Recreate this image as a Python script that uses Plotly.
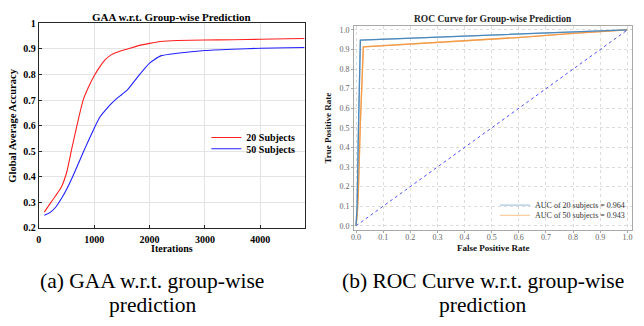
import plotly.graph_objects as go

# ---------------- data ----------------
iterations = [100, 200, 300, 400, 500, 600, 700, 800, 900, 1000, 1100, 1200, 1300,
              1400, 1500, 1600, 1800, 2000, 2200, 2500, 3000, 3500, 4000, 4500, 4800]
gaa_20 = [0.262, 0.294, 0.325, 0.357, 0.415, 0.515, 0.612, 0.700, 0.752, 0.795, 0.830,
          0.858, 0.876, 0.886, 0.894, 0.900, 0.913, 0.922, 0.929, 0.933, 0.935, 0.936,
          0.938, 0.940, 0.941]
gaa_50 = [0.250, 0.260, 0.280, 0.312, 0.350, 0.395, 0.445, 0.495, 0.543, 0.590, 0.633,
          0.660, 0.684, 0.705, 0.722, 0.740, 0.795, 0.845, 0.873, 0.883, 0.894, 0.899,
          0.903, 0.905, 0.906]
gaa_names = ["20 Subjects", "50 Subjects"]

fpr_20 = [0.0, 0.004, 0.009, 0.016, 0.28, 0.61, 1.0]
tpr_20 = [0.0, 0.10, 0.50, 0.948, 0.962, 0.978, 1.0]
fpr_50 = [0.0, 0.004, 0.008, 0.016, 0.027, 0.276, 0.606, 0.80, 1.0]
tpr_50 = [0.0, 0.05, 0.15, 0.53, 0.913, 0.933, 0.962, 0.982, 1.0]
chance = [0.0, 1.0]
roc_names = ["AUC of 20 subjects = 0.964", "AUC of 50 subjects = 0.943"]

gaa_xticks = [0, 1000, 2000, 3000, 4000]
gaa_yticks = [0.2, 0.3, 0.4, 0.5, 0.6, 0.7, 0.8, 0.9, 1.0]
gaa_yticktext = ["0.2", "0.3", "0.4", "0.5", "0.6", "0.7", "0.8", "0.9", "1"]
roc_ticks = [0.0, 0.1, 0.2, 0.3, 0.4, 0.5, 0.6, 0.7, 0.8, 0.9, 1.0]

captions_a = ["(a) GAA w.r.t. group-wise", "prediction"]
captions_b = ["(b) ROC Curve w.r.t. group-wise", "prediction"]

# ---------------- figure ----------------
W, H = 644, 326
SERIF = "Liberation Serif"

def px(x):
    return x / W

def py(y):
    return 1 - y / H

fig = go.Figure()

# left: GAA curves
fig.add_trace(go.Scatter(x=iterations, y=gaa_20, mode="lines", name=gaa_names[0],
                         line=dict(color="#ff2020", width=1.1, shape="spline", smoothing=0.5),
                         xaxis="x", yaxis="y", legend="legend"))
fig.add_trace(go.Scatter(x=iterations, y=gaa_50, mode="lines", name=gaa_names[1],
                         line=dict(color="#2020ff", width=1.1, shape="spline", smoothing=0.5),
                         xaxis="x", yaxis="y", legend="legend2"))

# right: ROC curves (pale legend samples drawn underneath the real curves)
fig.add_trace(go.Scatter(x=fpr_20, y=tpr_20, mode="lines", name=roc_names[0],
                         line=dict(color="#a8c8e2", width=1.3), xaxis="x2", yaxis="y2",
                         legend="legend3", hoverinfo="skip"))
fig.add_trace(go.Scatter(x=fpr_50, y=tpr_50, mode="lines", name=roc_names[1],
                         line=dict(color="#fbcda3", width=1.3), xaxis="x2", yaxis="y2",
                         legend="legend4", hoverinfo="skip"))
fig.add_trace(go.Scatter(x=chance, y=chance, mode="lines", showlegend=False,
                         line=dict(color="#5050ff", width=1, dash="dot"),
                         xaxis="x2", yaxis="y2"))
fig.add_trace(go.Scatter(x=fpr_50, y=tpr_50, mode="lines", showlegend=False,
                         line=dict(color="#f39a45", width=1.3), xaxis="x2", yaxis="y2"))
fig.add_trace(go.Scatter(x=fpr_20, y=tpr_20, mode="lines", showlegend=False,
                         line=dict(color="#4c88bb", width=1.3), xaxis="x2", yaxis="y2"))

left_font = dict(family=SERIF, size=10, color="#000000", weight="bold")
right_font = dict(family=SERIF, size=8, color="#666666")

leg_common = dict(bgcolor="rgba(0,0,0,0)", borderwidth=0, xanchor="left", yanchor="middle",
                  itemclick=False, itemdoubleclick=False)

fig.update_layout(
    width=W, height=H, margin=dict(l=0, r=0, t=0, b=0),
    paper_bgcolor="white", plot_bgcolor="white",
    font=dict(family=SERIF),
    xaxis=dict(domain=[px(36), px(303)], range=[0, 4800], tickvals=gaa_xticks,
               showline=True, mirror=True, linecolor="#262626", linewidth=1,
               showgrid=True, gridcolor="#e4e4e4", gridwidth=1, zeroline=False,
               ticks="inside", ticklen=3, tickcolor="#262626", tickfont=left_font,
               ticklabelstandoff=2, anchor="y"),
    yaxis=dict(domain=[py(230), py(19)], range=[0.2, 1.0], tickvals=gaa_yticks,
               ticktext=gaa_yticktext, showline=True, mirror=True, linecolor="#262626",
               linewidth=1, showgrid=True, gridcolor="#e4e4e4", gridwidth=1,
               zeroline=False, ticks="inside", ticklen=3, tickcolor="#262626",
               tickfont=left_font, anchor="x"),
    xaxis2=dict(domain=[px(352.7), px(632)], range=[-0.0073, 1.0172], tickvals=roc_ticks,
                tickformat=".1f", showline=True, mirror=True, linecolor="#a8a8a8",
                linewidth=1, showgrid=True, gridcolor="#dcdcdc", griddash="dot",
                gridwidth=1, zeroline=False, ticks="outside", ticklen=2,
                tickcolor="#a8a8a8", tickfont=right_font, ticklabelstandoff=-2,
                anchor="y2"),
    yaxis2=dict(domain=[py(232), py(21.7)], range=[-0.021, 1.0198], tickvals=roc_ticks,
                tickformat=".1f", showline=True, mirror=True, linecolor="#a8a8a8",
                linewidth=1, showgrid=True, gridcolor="#dcdcdc", griddash="dot",
                gridwidth=1, zeroline=False, ticks="outside", ticklen=2,
                tickcolor="#a8a8a8", tickfont=right_font, anchor="x2"),
    legend=dict(leg_common, x=px(204.3), y=py(136.7),
                font=dict(family=SERIF, size=10, color="#000000", weight="bold")),
    legend2=dict(leg_common, x=px(204.3), y=py(148.3),
                 font=dict(family=SERIF, size=10, color="#000000", weight="bold")),
    legend3=dict(leg_common, x=px(494.3), y=py(206.5),
                 font=dict(family=SERIF, size=8, color="#333333")),
    legend4=dict(leg_common, x=px(494.3), y=py(217),
                 font=dict(family=SERIF, size=8, color="#333333")),
)

ann = []
# titles
ann.append(dict(text="GAA w.r.t. Group-wise Prediction", x=px(169.5), y=py(12.7),
                font=dict(family=SERIF, size=11, color="#000000", weight="bold")))
ann.append(dict(text="ROC Curve for Group-wise Prediction", x=px(492.3), y=py(14.3),
                font=dict(family=SERIF, size=9.5, color="#222222", weight="bold")))
# axis labels
ann.append(dict(text="Iterations", x=px(169.5), y=py(251),
                font=dict(family=SERIF, size=10, color="#000000", weight="bold")))
ann.append(dict(text="Global Average Accuracy", x=px(10), y=py(124.5), textangle=-90,
                font=dict(family=SERIF, size=10.5, color="#000000", weight="bold")))
ann.append(dict(text="False Positive Rate", x=px(492.3), y=py(251),
                font=dict(family=SERIF, size=9, color="#111111", weight="bold")))
ann.append(dict(text="True Positive Rate", x=px(327), y=py(127), textangle=-90,
                font=dict(family=SERIF, size=9, color="#111111", weight="bold")))
# captions
cap_font = dict(family=SERIF, size=21.5, color="#000000")
ann.append(dict(text=captions_a[0], x=px(150), y=py(285), font=cap_font))
ann.append(dict(text=captions_a[1], x=px(150), y=py(310), font=cap_font))
ann.append(dict(text=captions_b[0], x=px(482), y=py(285), font=cap_font))
ann.append(dict(text=captions_b[1], x=px(482), y=py(310), font=cap_font))

for a in ann:
    a.update(xref="paper", yref="paper", showarrow=False, xanchor="center",
             yanchor="middle")
fig.update_layout(annotations=ann)

fig.write_html("out.html")
